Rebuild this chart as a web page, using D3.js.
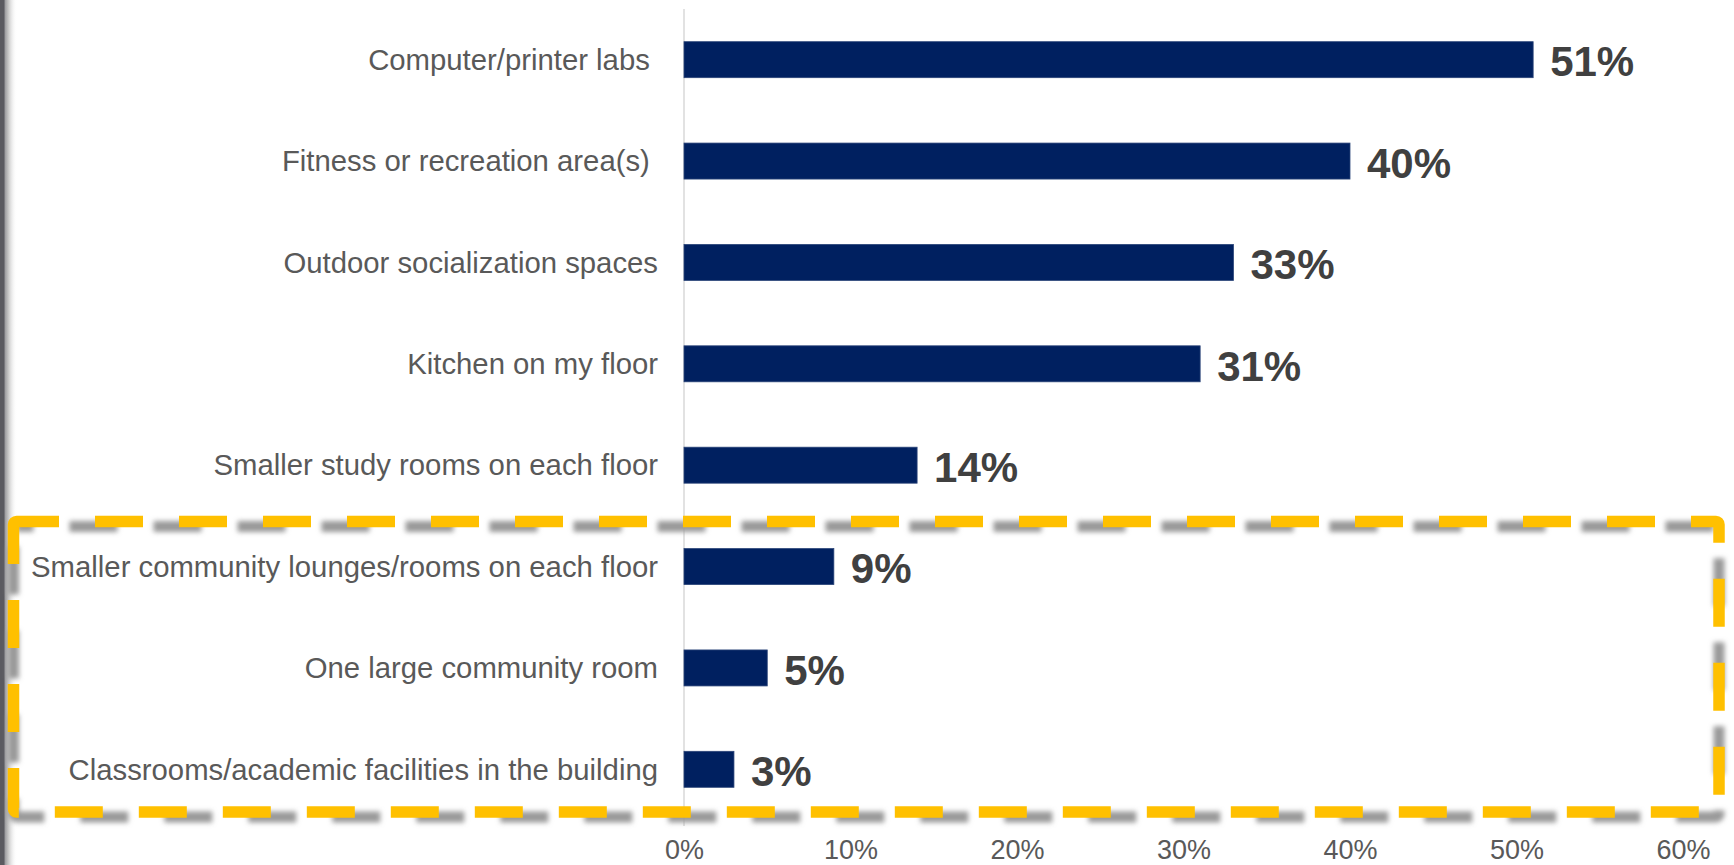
<!DOCTYPE html>
<html>
<head>
<meta charset="utf-8">
<script src="https://cdn.jsdelivr.net/npm/d3@7/dist/d3.min.js"></script>
<style>
  html, body { margin: 0; padding: 0; background: #ffffff; }
  svg { display: block; }
  text { font-family: "Liberation Sans", Arial, sans-serif; }
</style>
</head>
<body>
<script>
// Amenities residents would use, share of respondents (%)
const categories = [
  "Computer/printer labs ",
  "Fitness or recreation area(s) ",
  "Outdoor socialization spaces",
  "Kitchen on my floor",
  "Smaller study rooms on each floor",
  "Smaller community lounges/rooms on each floor",
  "One large community room",
  "Classrooms/academic facilities in the building"
];
const values = [51, 40, 33, 31, 14, 9, 5, 3];
const tickValues = [0, 10, 20, 30, 40, 50, 60];
// Rows picked out by the dashed callout box
const highlighted = [
  "Smaller community lounges/rooms on each floor",
  "One large community room",
  "Classrooms/academic facilities in the building"
];

(function draw() {
  const W = 1734, H = 865;
  const svg = d3.select("body").append("svg").attr("width", W).attr("height", H);
  const defs = svg.append("defs");

  // Slide edge on the left
  const grad = defs.append("linearGradient").attr("id", "edgeShade")
    .attr("x1", 0).attr("x2", 1).attr("y1", 0).attr("y2", 0);
  grad.append("stop").attr("offset", 0).attr("stop-color", "#8e8e92");
  grad.append("stop").attr("offset", 0.35).attr("stop-color", "#c9c9c9");
  grad.append("stop").attr("offset", 1).attr("stop-color", "#ffffff").attr("stop-opacity", 0);
  svg.append("rect").attr("x", 4).attr("y", 0).attr("width", 13).attr("height", H).attr("fill", "url(#edgeShade)");
  svg.append("rect").attr("x", 0).attr("y", 0).attr("width", 4.5).attr("height", H).attr("fill", "#5a5a60");

  const x = d3.scaleLinear().domain([0, 60]).range([684, 1683]);
  const y = d3.scaleBand().domain(categories).range([9, 820]).paddingInner(0.645).paddingOuter(0.3225);

  // Category axis line
  svg.append("line")
    .attr("x1", x(0)).attr("x2", x(0))
    .attr("y1", 9).attr("y2", 826)
    .attr("stroke", "#d9d9d9").attr("stroke-width", 1.5);

  // Bars
  svg.append("g").selectAll("rect").data(values).join("rect")
    .attr("x", x(0))
    .attr("y", (d, i) => y(categories[i]))
    .attr("width", d => x(d) - x(0))
    .attr("height", y.bandwidth())
    .attr("fill", "#002060")
    .attr("stroke", "#2a4478").attr("stroke-width", 0.8);

  // Value labels
  svg.append("g").selectAll("text").data(values).join("text")
    .attr("x", d => x(d) + 17)
    .attr("y", (d, i) => y(categories[i]) + y.bandwidth() / 2)
    .attr("dy", "0.4em")
    .attr("font-size", 42).attr("font-weight", "bold")
    .attr("fill", "#404040")
    .text(d => d + "%");

  // Category labels
  svg.append("g").selectAll("text").data(categories).join("text")
    .attr("x", 658)
    .attr("y", d => y(d) + y.bandwidth() / 2)
    .attr("dy", "0.35em")
    .attr("text-anchor", "end")
    .attr("font-size", 29.3)
    .attr("fill", "#595959")
    .style("white-space", "pre")
    .text(d => d);

  // Value axis (labels only)
  const xAxis = d3.axisBottom(x).tickValues(tickValues).tickSize(0).tickPadding(0)
    .tickFormat(d => d + "%");
  const gx = svg.append("g").attr("transform", "translate(0,839.5)").call(xAxis);
  gx.select(".domain").remove();
  gx.selectAll("text")
    .attr("font-size", 27).attr("fill", "#595959")
    .attr("font-family", "Liberation Sans, Arial, sans-serif");

  // Dashed callout around the highlighted rows
  const gapHalf = (y.step() - y.bandwidth()) / 2;
  const boxTop = y(highlighted[0]) - gapHalf + 5.5;
  const boxBottom = y(highlighted[highlighted.length - 1]) + y.bandwidth() + gapHalf - 8;
  const box = { x0: 13.5, x1: 1719, y0: boxTop, y1: boxBottom };

  const blur = defs.append("filter").attr("id", "soft")
    .attr("x", "-5%").attr("y", "-20%").attr("width", "110%").attr("height", "140%");
  blur.append("feGaussianBlur").attr("stdDeviation", 2.6);

  svg.append("rect")
    .attr("x", box.x0).attr("y", box.y0 + 5)
    .attr("width", box.x1 - box.x0).attr("height", box.y1 - box.y0)
    .attr("rx", 3)
    .attr("fill", "none").attr("stroke", "#9a9a9a").attr("stroke-width", 11)
    .attr("stroke-dasharray", "48 36").attr("stroke-dashoffset", 31)
    .attr("filter", "url(#soft)");

  svg.append("rect")
    .attr("x", box.x0).attr("y", box.y0)
    .attr("width", box.x1 - box.x0).attr("height", box.y1 - box.y0)
    .attr("rx", 3)
    .attr("fill", "none").attr("stroke", "#ffc000").attr("stroke-width", 11.5)
    .attr("stroke-dasharray", "48 36").attr("stroke-dashoffset", 5.5);
})();
</script>
</body>
</html>
